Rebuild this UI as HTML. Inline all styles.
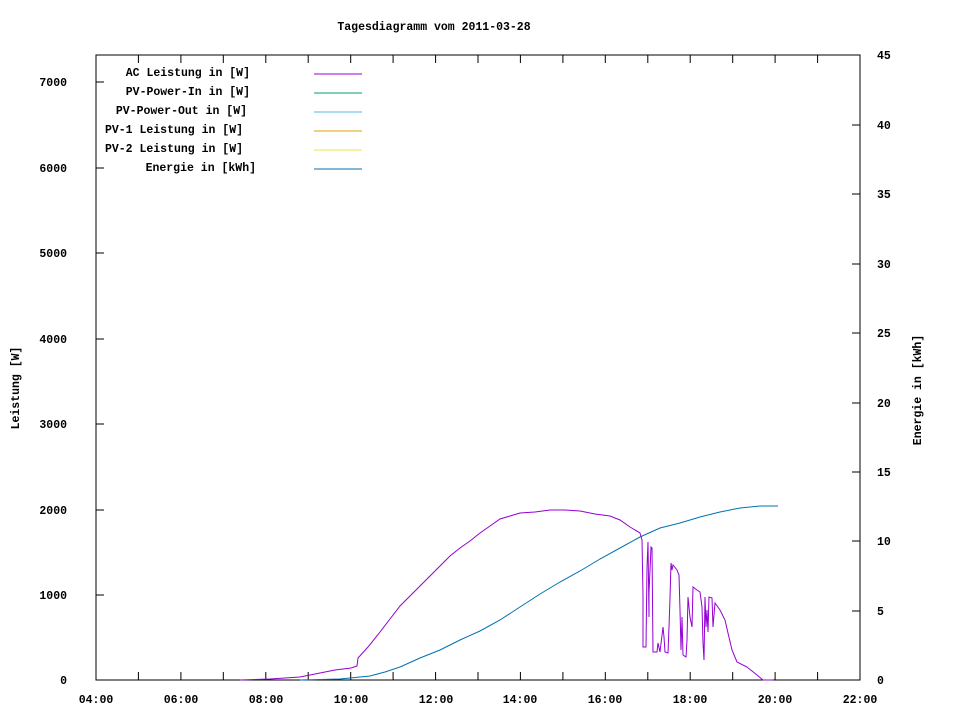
<!DOCTYPE html><html><head><style>body{margin:0;background:#fff}svg{display:block}text{font-family:"Liberation Mono",monospace;font-size:11.5px;font-weight:bold;fill:#000}</style></head><body>
<svg width="960" height="720" viewBox="0 0 960 720">
<rect x="96" y="55" width="764" height="625" fill="none" stroke="#000" stroke-width="1"/>
<g stroke="#000">
<path d="M96 680h8M96 595h8M96 510h8M96 424h8M96 339h8M96 253h8M96 168h8M96 82h8"/>
<path d="M860 680h-8M860 611h-8M860 541h-8M860 472h-8M860 403h-8M860 333h-8M860 264h-8M860 194h-8M860 125h-8M860 55h-8"/>
<path d="M138.4 680v-8M180.9 680v-8M223.3 680v-8M265.8 680v-8M308.2 680v-8M350.7 680v-8M393.1 680v-8M435.6 680v-8M478 680v-8M520.4 680v-8M562.9 680v-8M605.3 680v-8M647.8 680v-8M690.2 680v-8M732.7 680v-8M775.1 680v-8M817.6 680v-8"/>
<path d="M138.4 55v8M180.9 55v8M223.3 55v8M265.8 55v8M308.2 55v8M350.7 55v8M393.1 55v8M435.6 55v8M478 55v8M520.4 55v8M562.9 55v8M605.3 55v8M647.8 55v8M690.2 55v8M732.7 55v8M775.1 55v8M817.6 55v8"/>
</g>
<g text-anchor="end"><text x="67" y="684">0</text><text x="67" y="599">1000</text><text x="67" y="514">2000</text><text x="67" y="428">3000</text><text x="67" y="343">4000</text><text x="67" y="257">5000</text><text x="67" y="172">6000</text><text x="67" y="86">7000</text></g>
<g text-anchor="start"><text x="877" y="684">0</text><text x="877" y="615">5</text><text x="877" y="545">10</text><text x="877" y="476">15</text><text x="877" y="407">20</text><text x="877" y="337">25</text><text x="877" y="268">30</text><text x="877" y="198">35</text><text x="877" y="129">40</text><text x="877" y="59">45</text></g>
<g text-anchor="middle"><text x="96" y="703">04:00</text><text x="181" y="703">06:00</text><text x="266" y="703">08:00</text><text x="351" y="703">10:00</text><text x="436" y="703">12:00</text><text x="520" y="703">14:00</text><text x="605" y="703">16:00</text><text x="690" y="703">18:00</text><text x="775" y="703">20:00</text><text x="860" y="703">22:00</text>
<text x="434" y="30">Tagesdiagramm vom 2011-03-28</text></g>
<text transform="translate(19,388) rotate(-90)" text-anchor="middle">Leistung [W]</text>
<text transform="translate(921,390) rotate(-90)" text-anchor="middle">Energie in [kWh]</text>
<g text-anchor="end"><text x="250" y="76">AC Leistung in [W]</text><text x="250" y="95">PV-Power-In in [W]</text><text x="247" y="114">PV-Power-Out in [W]</text><text x="243" y="133">PV-1 Leistung in [W]</text><text x="243" y="152">PV-2 Leistung in [W]</text><text x="256" y="171">Energie in [kWh]</text></g>
<path d="M314 74h48" stroke="#9400d3"/><path d="M314 93h48" stroke="#009e73"/><path d="M314 112h48" stroke="#56b4e9"/><path d="M314 131h48" stroke="#e69f00"/><path d="M314 150h48" stroke="#f0e442"/><path d="M314 169h48" stroke="#0072b2"/>
<polyline fill="none" stroke="#0072b2" points="300,680 340,679 370,676 385,672 400,667 420,658 440,650 460,640 480,631 500,620 520,607 540,594 560,582 580,571 600,559 620,548 640,537 660,528 680,523 700,517 720,512 740,508 760,506 778,506"/>
<polyline fill="none" stroke="#9400d3" points="240,680 270,679 300,677 320,673 335,670 351,668 357,666 358,658 368,647 380,632 390,619 400,606 410,596 420,586 436,570 450,556 460,548 470,541 480,533 490,526 500,519 510,516 520,513 535,512 550,510 565,510 580,511 595,514 610,516 620,520 630,527 640,533 642,540 643,595 643,647 646,647 647,567 648,542 649,617 649,593 651,547 652,548 653,652 657,652 658,643 660,652 663,627 664,637 665,652 668,653 669,627 670,598 671,563 672,570 673,565 677,570 679,575 680,610 681,650 682,617 683,655 686,657 687,640 688,597 690,617 692,627 693,587 697,590 700,592 702,607 703,643 704,660 705,597 706,627 707,610 708,632 709,597 712,598 713,627 715,603 720,610 725,620 728,633 732,650 737,662 747,667 757,675 763,680 773,680"/>
</svg></body></html>
